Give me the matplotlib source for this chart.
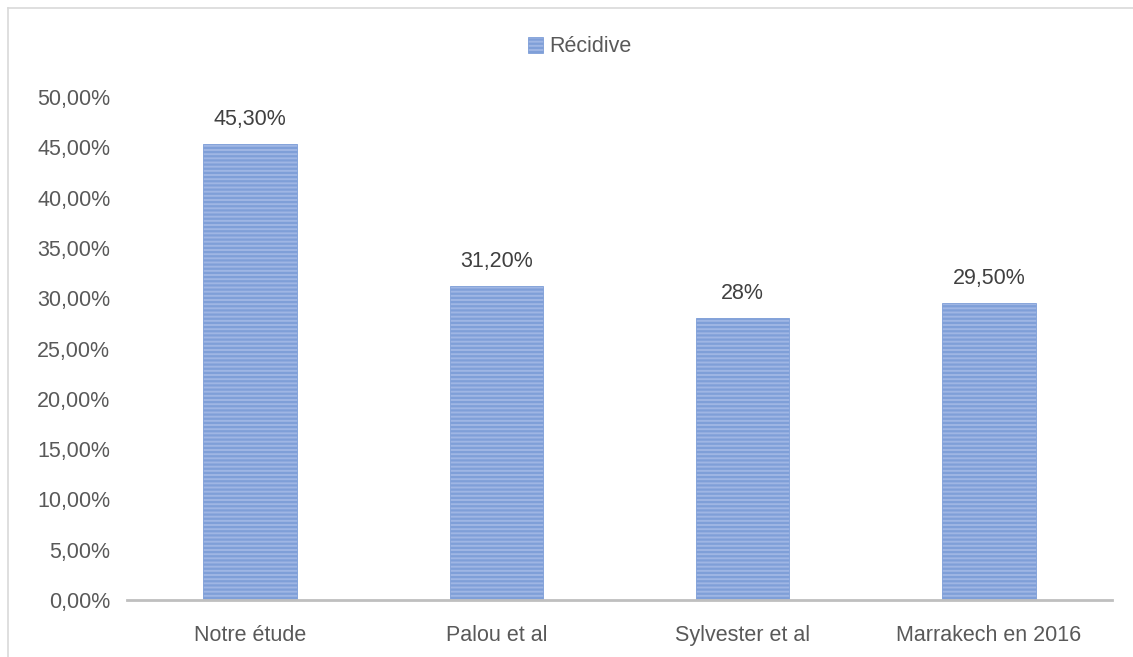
import matplotlib.pyplot as plt
import numpy as np

plt.rcParams['font.family'] = ['Liberation Sans', 'DejaVu Sans']
plt.rcParams['hatch.color'] = '#4a74c4'
plt.rcParams['hatch.linewidth'] = 1.6

# valeurs de récidive par étude
etudes = ["Notre étude", "Palou et al", "Sylvester et al", "Marrakech en 2016"]
recidive = [45.3, 31.2, 28.0, 29.5]
etiquettes = ["45,30%", "31,20%", "28%", "29,50%"]
graduations = [0, 5, 10, 15, 20, 25, 30, 35, 40, 45, 50]

gris_texte = '#595959'
gris_ligne = '#bfbfbf'
taille = 15.5

fig = plt.figure(figsize=(11.33, 6.57), dpi=100)
# y: 0 -> pixel 600, 50 -> pixel 97
ax = fig.add_axes([127 / 1133, (657 - 600) / 657, 985 / 1133, 503 / 657])

x = np.arange(len(etudes))
ax.bar(x, recidive, width=0.38, color='#9fb6e4', edgecolor='#7f9fd8',
       linewidth=0.6, hatch='----', label='Récidive', zorder=2)

for xi, v, txt in zip(x, recidive, etiquettes):
    ax.text(xi, v + 1.4, txt, ha='center', va='bottom', fontsize=taille, color='#404040')

ax.set_xlim(-0.5, len(etudes) - 0.5)
ax.set_ylim(0, 50)
ax.set_yticks(graduations)
ax.set_yticklabels([f"{g},00%" for g in graduations])
ax.set_xticks(x)
ax.set_xticklabels(etudes)
ax.tick_params(axis='both', length=0, labelsize=taille, labelcolor=gris_texte)
ax.tick_params(axis='y', pad=12)
ax.tick_params(axis='x', pad=18)

for side in ['top', 'right', 'left']:
    ax.spines[side].set_visible(False)
ax.spines['bottom'].set_color(gris_ligne)
ax.spines['bottom'].set_linewidth(2)

ax.legend(loc='center', bbox_to_anchor=(580 / 1133, (657 - 47) / 657), bbox_transform=fig.transFigure,
          frameon=False, fontsize=taille, handlelength=0.7, handleheight=0.7,
          handletextpad=0.3, labelcolor=gris_texte)

# cadre autour du graphique
fig.add_artist(plt.Line2D([8 / 1133, 8 / 1133], [0, 1 - 8 / 657], color='#d9d9d9',
                          linewidth=1.2, transform=fig.transFigure))
fig.add_artist(plt.Line2D([8 / 1133, 1], [1 - 8 / 657, 1 - 8 / 657], color='#d9d9d9',
                          linewidth=1.2, transform=fig.transFigure))

fig.savefig('out.png', dpi=100, facecolor='white')
